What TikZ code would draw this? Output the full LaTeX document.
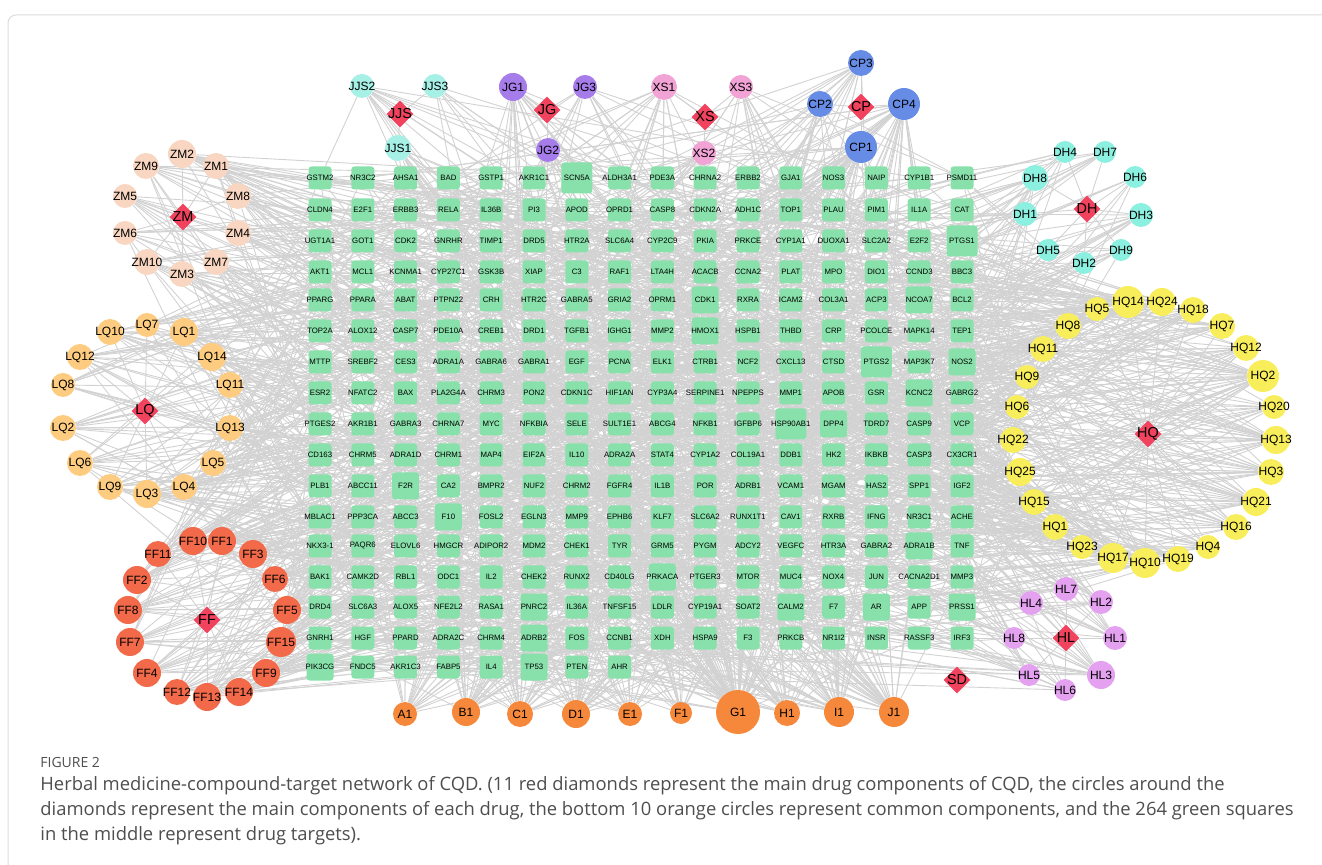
\documentclass[tikz,border=0pt]{standalone}
\usepackage{fontspec}
\setmainfont{Liberation Sans}
\newfontfamily\capfont{Open Sans}
\usetikzlibrary{shapes.geometric,backgrounds}

\definecolor{tgtgreen}{RGB}{136,225,170}
\definecolor{herbred}{RGB}{241,67,94}
\definecolor{linkgray}{RGB}{210,210,210}
\definecolor{framegray}{RGB}{220,220,220}
\definecolor{capgray}{RGB}{78,78,78}
\definecolor{colJJS}{RGB}{166,240,230}
\definecolor{colJG}{RGB}{166,123,234}
\definecolor{colXS}{RGB}{240,163,212}
\definecolor{colCP}{RGB}{103,140,230}
\definecolor{colDH}{RGB}{140,240,224}
\definecolor{colHQ}{RGB}{248,238,92}
\definecolor{colHL}{RGB}{228,161,240}
\definecolor{colZM}{RGB}{248,214,193}
\definecolor{colLQ}{RGB}{253,204,128}
\definecolor{colFF}{RGB}{243,106,74}
\definecolor{colCM}{RGB}{245,136,58}

\begin{document}
\begin{tikzpicture}[x=0.5pt,y=-0.5pt]
    \tikzset{
        tgt/.style={
            rectangle,
            rounded corners=1.5pt,
            fill=tgtgreen,
            minimum size=11.5pt,
            inner sep=0pt,
            font=\fontsize{3.9pt}{4.5pt}\selectfont
        },
        mid/.style={minimum size=13.5pt},
        big/.style={minimum size=15.5pt},
        herb/.style={
            diamond,
            fill=herbred,
            minimum size=13.5pt,
            inner sep=0pt,
            font=\fontsize{7.2pt}{8pt}\selectfont
        },
        comp/.style={
            circle,
            inner sep=0pt,
            font=\fontsize{6pt}{7pt}\selectfont
        },
        link/.style={draw=linkgray,line width=0.45pt},
        frame/.style={draw=framegray,line width=0.5pt,rounded corners=4pt},
        caption/.style={anchor=west,inner sep=0pt,text=capgray,
            font=\capfont\fontsize{9.2pt}{11pt}\selectfont},
        sz SCN5A/.style=big, sz PTGS1/.style=big, sz PTGS2/.style=big,
        sz HSP90AB1/.style=big, sz NCOA7/.style=mid, sz CDK1/.style=mid,
        sz NOS2/.style=mid, sz DPP4/.style=mid, sz KCNC2/.style=mid,
        sz F2R/.style=mid, sz PRKACA/.style=mid, sz PNRC2/.style=mid,
        sz ADRB2/.style=mid, sz CALM2/.style=mid, sz AR/.style=mid,
        sz PRSS1/.style=mid, sz ADRA1B/.style=mid, sz TP53/.style=mid,
        sz PIK3CG/.style=mid, sz HMOX1/.style=mid, sz F10/.style=mid
    }
    \useasboundingbox (0,0) rectangle (1322,865);
    \pgfmathsetseed{2024}

    \draw[frame] (1322,15) -- (8,15) -- (8,865);

    % target grid, 16 per row
    \foreach \n [count=\c] in {GSTM2,NR3C2,AHSA1,BAD,GSTP1,AKR1C1,SCN5A,ALDH3A1,PDE3A,CHRNA2,ERBB2,GJA1,NOS3,NAIP,CYP1B1,PSMD11}
        \node[tgt,sz \n/.try] (g1-\c) at ({320+42.8*(\c-1)},178) {\makebox[0pt]{\n}};
    \foreach \n [count=\c] in {CLDN4,E2F1,ERBB3,RELA,IL36B,PI3,APOD,OPRD1,CASP8,CDKN2A,ADH1C,TOP1,PLAU,PIM1,IL1A,CAT}
        \node[tgt,sz \n/.try] (g2-\c) at ({320+42.8*(\c-1)},210) {\makebox[0pt]{\n}};
    \foreach \n [count=\c] in {UGT1A1,GOT1,CDK2,GNRHR,TIMP1,DRD5,HTR2A,SLC6A4,CYP2C9,PKIA,PRKCE,CYP1A1,DUOXA1,SLC2A2,E2F2,PTGS1}
        \node[tgt,sz \n/.try] (g3-\c) at ({320+42.8*(\c-1)},241) {\makebox[0pt]{\n}};
    \foreach \n [count=\c] in {AKT1,MCL1,KCNMA1,CYP27C1,GSK3B,XIAP,C3,RAF1,LTA4H,ACACB,CCNA2,PLAT,MPO,DIO1,CCND3,BBC3}
        \node[tgt,sz \n/.try] (g4-\c) at ({320+42.8*(\c-1)},272) {\makebox[0pt]{\n}};
    \foreach \n [count=\c] in {PPARG,PPARA,ABAT,PTPN22,CRH,HTR2C,GABRA5,GRIA2,OPRM1,CDK1,RXRA,ICAM2,COL3A1,ACP3,NCOA7,BCL2}
        \node[tgt,sz \n/.try] (g5-\c) at ({320+42.8*(\c-1)},300) {\makebox[0pt]{\n}};
    \foreach \n [count=\c] in {TOP2A,ALOX12,CASP7,PDE10A,CREB1,DRD1,TGFB1,IGHG1,MMP2,HMOX1,HSPB1,THBD,CRP,PCOLCE,MAPK14,TEP1}
        \node[tgt,sz \n/.try] (g6-\c) at ({320+42.8*(\c-1)},331) {\makebox[0pt]{\n}};
    \foreach \n [count=\c] in {MTTP,SREBF2,CES3,ADRA1A,GABRA6,GABRA1,EGF,PCNA,ELK1,CTRB1,NCF2,CXCL13,CTSD,PTGS2,MAP3K7,NOS2}
        \node[tgt,sz \n/.try] (g7-\c) at ({320+42.8*(\c-1)},362) {\makebox[0pt]{\n}};
    \foreach \n [count=\c] in {ESR2,NFATC2,BAX,PLA2G4A,CHRM3,PON2,CDKN1C,HIF1AN,CYP3A4,SERPINE1,NPEPPS,MMP1,APOB,GSR,KCNC2,GABRG2}
        \node[tgt,sz \n/.try] (g8-\c) at ({320+42.8*(\c-1)},393) {\makebox[0pt]{\n}};
    \foreach \n [count=\c] in {PTGES2,AKR1B1,GABRA3,CHRNA7,MYC,NFKBIA,SELE,SULT1E1,ABCG4,NFKB1,IGFBP6,HSP90AB1,DPP4,TDRD7,CASP9,VCP}
        \node[tgt,sz \n/.try] (g9-\c) at ({320+42.8*(\c-1)},424) {\makebox[0pt]{\n}};
    \foreach \n [count=\c] in {CD163,CHRM5,ADRA1D,CHRM1,MAP4,EIF2A,IL10,ADRA2A,STAT4,CYP1A2,COL19A1,DDB1,HK2,IKBKB,CASP3,CX3CR1}
        \node[tgt,sz \n/.try] (g10-\c) at ({320+42.8*(\c-1)},455) {\makebox[0pt]{\n}};
    \foreach \n [count=\c] in {PLB1,ABCC11,F2R,CA2,BMPR2,NUF2,CHRM2,FGFR4,IL1B,POR,ADRB1,VCAM1,MGAM,HAS2,SPP1,IGF2}
        \node[tgt,sz \n/.try] (g11-\c) at ({320+42.8*(\c-1)},486) {\makebox[0pt]{\n}};
    \foreach \n [count=\c] in {MBLAC1,PPP3CA,ABCC3,F10,FOSL2,EGLN3,MMP9,EPHB6,KLF7,SLC6A2,RUNX1T1,CAV1,RXRB,IFNG,NR3C1,ACHE}
        \node[tgt,sz \n/.try] (g12-\c) at ({320+42.8*(\c-1)},517) {\makebox[0pt]{\n}};
    \foreach \n [count=\c] in {NKX3-1,PAQR6,ELOVL6,HMGCR,ADIPOR2,MDM2,CHEK1,TYR,GRM5,PYGM,ADCY2,VEGFC,HTR3A,GABRA2,ADRA1B,TNF}
        \node[tgt,sz \n/.try] (g13-\c) at ({320+42.8*(\c-1)},546) {\makebox[0pt]{\n}};
    \foreach \n [count=\c] in {BAK1,CAMK2D,RBL1,ODC1,IL2,CHEK2,RUNX2,CD40LG,PRKACA,PTGER3,MTOR,MUC4,NOX4,JUN,CACNA2D1,MMP3}
        \node[tgt,sz \n/.try] (g14-\c) at ({320+42.8*(\c-1)},577) {\makebox[0pt]{\n}};
    \foreach \n [count=\c] in {DRD4,SLC6A3,ALOX5,NFE2L2,RASA1,PNRC2,IL36A,TNFSF15,LDLR,CYP19A1,SOAT2,CALM2,F7,AR,APP,PRSS1}
        \node[tgt,sz \n/.try] (g15-\c) at ({320+42.8*(\c-1)},607) {\makebox[0pt]{\n}};
    \foreach \n [count=\c] in {GNRH1,HGF,PPARD,ADRA2C,CHRM4,ADRB2,FOS,CCNB1,XDH,HSPA9,F3,PRKCB,NR1I2,INSR,RASSF3,IRF3}
        \node[tgt,sz \n/.try] (g16-\c) at ({320+42.8*(\c-1)},638) {\makebox[0pt]{\n}};
    \foreach \n [count=\c] in {PIK3CG,FNDC5,AKR1C3,FABP5,IL4,TP53,PTEN,AHR}
        \node[tgt,sz \n/.try] (g17-\c) at ({320+42.8*(\c-1)},667) {\makebox[0pt]{\n}};

    % herbs
    \foreach \n/\x/\y in {JJS/400/114,JG/547/110,XS/705/117,CP/861/107,DH/1087/209,
        HQ/1148/434,HL/1066/638,SD/957/680,ZM/183/217,LQ/145/411,FF/207/620}
        \node[herb] (\n) at (\x,\y) {\makebox[0pt]{\n}};

    % components of each herb, with their targets
    \foreach \n/\h/\x/\y/\d/\k in {
        JJS2/JJS/362/86/24/14, JJS3/JJS/435/86/24/8, JJS1/JJS/398/148/26/16,
        JG1/JG/513/87/28/22, JG3/JG/585/87/24/12, JG2/JG/548/150/24/12,
        XS1/XS/664/87/26/18, XS3/XS/741/87/24/14, XS2/XS/704/153/24/12,
        CP3/CP/861/63/26/16, CP2/CP/820/104/26/16, CP4/CP/904/104/32/34, CP1/CP/861/147/32/34,
        DH4/DH/1065/152/22/8, DH7/DH/1105/152/22/8, DH8/DH/1035/178/26/12,
        DH6/DH/1135/177/22/6, DH1/DH/1025/214/24/10, DH3/DH/1141/215/24/10,
        DH5/DH/1048/250/22/8, DH9/DH/1121/250/22/8, DH2/DH/1084/263/22/8,
        HQ5/HQ/1097/309/24/14, HQ14/HQ/1128/302/32/30, HQ24/HQ/1162/302/28/20,
        HQ18/HQ/1193/310/26/16, HQ7/HQ/1222/326/26/16, HQ12/HQ/1246/348/26/16,
        HQ2/HQ/1263/376/32/30, HQ20/HQ/1274/407/24/12, HQ13/HQ/1276/440/28/22,
        HQ3/HQ/1271/472/26/18, HQ21/HQ/1256/502/28/22, HQ16/HQ/1236/527/26/16,
        HQ4/HQ/1208/547/24/14, HQ19/HQ/1178/559/26/16, HQ10/HQ/1145/563/30/24,
        HQ17/HQ/1113/558/30/24, HQ23/HQ/1082/547/24/14, HQ1/HQ/1055/527/26/16,
        HQ15/HQ/1034/502/26/16, HQ25/HQ/1020/472/28/20, HQ22/HQ/1013/440/26/16,
        HQ6/HQ/1017/407/24/14, HQ9/HQ/1027/377/24/14, HQ11/HQ/1043/349/26/16,
        HQ8/HQ/1068/326/26/16,
        HL7/HL/1066/589/24/12, HL4/HL/1031/603/24/12, HL2/HL/1101/602/24/12,
        HL8/HL/1014/638/22/10, HL1/HL/1115/638/24/12, HL5/HL/1029/675/22/10,
        HL3/HL/1101/675/28/18, HL6/HL/1065/690/22/10,
        ZM2/ZM/182/154/28/16, ZM9/ZM/146/166/26/12, ZM1/ZM/216/166/26/14,
        ZM5/ZM/125/196/24/10, ZM8/ZM/238/196/26/14, ZM6/ZM/125/233/24/10,
        ZM4/ZM/238/233/26/14, ZM10/ZM/147/262/26/12, ZM7/ZM/216/262/26/14,
        ZM3/ZM/182/274/26/12,
        LQ7/LQ/147/325/24/10, LQ10/LQ/110/332/26/14, LQ1/LQ/184/332/28/16,
        LQ12/LQ/80/357/26/14, LQ14/LQ/212/357/28/18, LQ8/LQ/63/385/24/10,
        LQ11/LQ/230/385/26/12, LQ2/LQ/63/428/26/14, LQ13/LQ/230/428/26/14,
        LQ6/LQ/80/463/26/14, LQ5/LQ/213/463/26/16, LQ9/LQ/110/487/26/14,
        LQ4/LQ/184/487/26/16, LQ3/LQ/147/494/28/16,
        FF10/FF/193/541/28/16, FF1/FF/222/541/28/18, FF11/FF/158/554/26/14,
        FF3/FF/253/554/28/16, FF2/FF/137/580/28/14, FF6/FF/275/579/26/14,
        FF8/FF/128/610/28/14, FF5/FF/287/610/28/18, FF7/FF/130/642/28/16,
        FF15/FF/281/642/30/20, FF4/FF/147/673/28/14, FF9/FF/266/673/28/18,
        FF12/FF/177/692/26/14, FF13/FF/207/697/28/16, FF14/FF/239/692/28/16}{
        \node[comp,fill=col\h,minimum size=\d*0.5pt] (\n) at (\x,\y) {\makebox[0pt]{\n}};
        \begin{scope}[on background layer]
            \draw[link] (\h) -- (\n);
            \foreach \j in {1,...,\k}{
                \pgfmathtruncatemacro\idx{random(0,263)}
                \pgfmathtruncatemacro\trow{div(\idx,16)+1}
                \pgfmathtruncatemacro\tcol{mod(\idx,16)+1}
                \draw[link] (\n) -- (g\trow-\tcol);
            }
        \end{scope}
    }

    % common components along the bottom
    \foreach \n/\x/\y/\d/\k in {A1/405/714/24/22, B1/466/712/28/32, C1/520/714/26/28,
        D1/576/714/28/32, E1/630/714/24/22, F1/681/713/22/18, G1/738/712/44/80,
        H1/787/713/26/28, I1/839/712/30/36, J1/894/712/30/36}{
        \node[comp,fill=colCM,minimum size=\d*0.5pt] (\n) at (\x,\y) {\makebox[0pt]{\n}};
        \begin{scope}[on background layer]
            \foreach \j in {1,...,\k}{
                \pgfmathtruncatemacro\idx{random(0,263)}
                \pgfmathtruncatemacro\trow{div(\idx,16)+1}
                \pgfmathtruncatemacro\tcol{mod(\idx,16)+1}
                \draw[link] (\n) -- (g\trow-\tcol);
            }
        \end{scope}
    }

    % caption
    \node[caption,font=\capfont\fontsize{7pt}{8pt}\selectfont] (figno) at (40,762) {FIGURE 2};
    \node[caption] (cap1) at (40,786) {Herbal medicine-compound-target network of CQD. (11 red diamonds represent the main drug components of CQD, the circles around the};
    \node[caption] (cap2) at (40,811) {diamonds represent the main components of each drug, the bottom 10 orange circles represent common components, and the 264 green squares};
    \node[caption] (cap3) at (40,836) {in the middle represent drug targets).};
\end{tikzpicture}
\end{document}
